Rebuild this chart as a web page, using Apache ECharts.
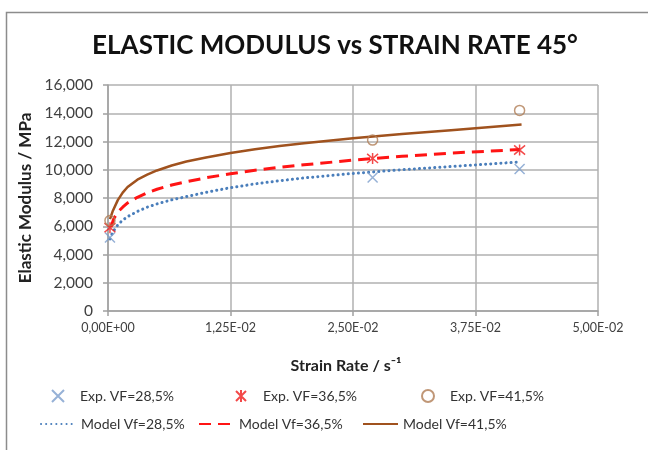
<!DOCTYPE html>
<html>
<head>
<meta charset="utf-8">
<script src="https://cdn.jsdelivr.net/npm/echarts@6/dist/echarts.min.js"></script>
<style>
  html, body { margin: 0; padding: 0; background: #fff; }
  #chart { width: 648px; height: 450px; }
</style>
</head>
<body>
<div id="chart"></div>
<script>
// Strain rate tick labels (comma decimal separator)
const xTickLabels = ['0,00E+00', '1,25E-02', '2,50E-02', '3,75E-02', '5,00E-02'];

// Experimental points: strain rate [1/s] and elastic modulus [MPa]
const expRate = [0.0002, 0.0270, 0.0420];
const expVf28 = [5200, 9450, 10050];
const expVf36 = [5900, 10800, 11400];
const expVf41 = [6400, 12100, 14200];

// Model curves: strain rate samples and modulus values
const modelRate28 = [0.0002, 0.0005, 0.001, 0.0015, 0.002, 0.003, 0.004, 0.005, 0.0065, 0.008, 0.010, 0.0125, 0.015, 0.0175, 0.020, 0.025, 0.030, 0.035, 0.042];
const modelVf28   = [5100, 5600, 6100, 6430, 6680, 7050, 7350, 7580, 7870, 8100, 8400, 8730, 9000, 9220, 9420, 9740, 10000, 10230, 10550];
const modelRate36 = [0.0003, 0.0006, 0.001, 0.0015, 0.002, 0.003, 0.004, 0.005, 0.0065, 0.008, 0.010, 0.0125, 0.015, 0.0175, 0.020, 0.025, 0.030, 0.035, 0.042];
const modelVf36   = [5950, 6550, 7000, 7350, 7650, 8050, 8370, 8620, 8920, 9150, 9430, 9720, 9960, 10170, 10350, 10680, 10950, 11180, 11430];
const modelRate41 = [0.0002, 0.0005, 0.001, 0.0015, 0.002, 0.003, 0.004, 0.005, 0.0065, 0.008, 0.010, 0.0125, 0.015, 0.0175, 0.020, 0.025, 0.030, 0.035, 0.0422];
const modelVf41   = [6500, 7100, 7850, 8380, 8780, 9300, 9650, 9950, 10300, 10580, 10870, 11180, 11450, 11680, 11880, 12230, 12530, 12800, 13200];

const pairs = (xs, ys) => xs.map((x, i) => [x, ys[i]]);

const FONT = 'Lato';
const crossPath = 'path://M0,0L10,10M10,0L0,10';
const starPath = 'path://M0,0L10,10M10,0L0,10M5,-1L5,11';

const xLabelMap = {};
[0, 0.0125, 0.025, 0.0375, 0.05].forEach((v, i) => { xLabelMap[v.toFixed(4)] = xTickLabels[i]; });

const chart = echarts.init(document.getElementById('chart'), null, { renderer: 'canvas' });

function legendAt(name, left, top, isMarker) {
  const l = {
    data: [name],
    left: left,
    top: top,
    itemWidth: isMarker ? 12 : 35,
    itemHeight: isMarker ? 12 : 10,
    itemGap: 2,
    textStyle: { fontFamily: FONT, fontSize: 14, color: '#333', padding: [0, 0, 0, isMarker ? 11 : 0] },
    selectedMode: false
  };
  if (!isMarker) l.itemStyle = { opacity: 0 };
  return l;
}

const option = {
  backgroundColor: '#fff',
  animation: false,
  title: [{
    text: 'ELASTIC MODULUS vs STRAIN RATE 45°',
    left: 330,
    top: 28,
    textAlign: 'center',
    textStyle: { fontFamily: FONT, fontWeight: 'bold', fontSize: 26, color: '#111' }
  }, {
    text: 'Strain Rate / s⁻¹',
    left: 341,
    top: 353,
    textAlign: 'center',
    textStyle: { fontFamily: FONT, fontWeight: 'bold', fontSize: 16, color: '#222' }
  }],
  graphic: [{
    type: 'rect',
    shape: { x: 6.5, y: 12.5, width: 700, height: 500 },
    style: { fill: 'none', stroke: '#8c8c8c', lineWidth: 1.5 },
    silent: true
  }],
  grid: { left: 108, right: 50, top: 85, bottom: 139 },
  xAxis: {
    type: 'value',
    min: 0, max: 0.05, interval: 0.0125,
    axisLine: { show: true, lineStyle: { color: '#a0a0a0', width: 1.5 } },
    axisTick: { show: true, length: 5, lineStyle: { color: '#a0a0a0', width: 1.5 } },
    axisLabel: {
      fontFamily: FONT, fontSize: 12.5, color: '#404040', margin: 10,
      formatter: v => xLabelMap[v.toFixed(4)] || ''
    },
    splitLine: { show: true, lineStyle: { color: '#b0b0b0', width: 1.5 } }
  },
  yAxis: {
    type: 'value',
    min: 0, max: 16000, interval: 2000,
    name: 'Elastic Modulus / MPa',
    nameLocation: 'middle',
    nameGap: 72,
    nameTextStyle: { fontFamily: FONT, fontWeight: 'bold', fontSize: 17, color: '#222' },
    axisLine: { show: true, lineStyle: { color: '#a0a0a0', width: 1.5 } },
    axisTick: { show: true, length: 5, lineStyle: { color: '#a0a0a0', width: 1.5 } },
    axisLabel: {
      fontFamily: FONT, fontSize: 15.5, color: '#404040', margin: 15,
      formatter: v => v === 0 ? '0' : v.toLocaleString('en-US')
    },
    splitLine: { show: true, lineStyle: { color: '#b0b0b0', width: 1.5 } }
  },
  legend: [
    legendAt('Exp. VF=28,5%', 46, 384, true),
    legendAt('Exp. VF=36,5%', 230, 384, true),
    legendAt('Exp. VF=41,5%', 416, 384, true),
    legendAt('Model Vf=28,5%', 35, 412, false),
    legendAt('Model Vf=36,5%', 193, 412, false),
    legendAt('Model Vf=41,5%', 357, 412, false)
  ],
  series: [
    {
      name: 'Model Vf=28,5%', type: 'line', symbol: 'none', smooth: false,
      data: pairs(modelRate28, modelVf28),
      lineStyle: { color: '#4a7ebb', width: 3, type: [0.1, 5], cap: 'round' },
      itemStyle: { color: '#4a7ebb' }, z: 2
    },
    {
      name: 'Model Vf=36,5%', type: 'line', symbol: 'none', smooth: false,
      data: pairs(modelRate36, modelVf36),
      lineStyle: { color: '#ff1414', width: 3, type: [12, 7] },
      itemStyle: { color: '#ff1414' }, z: 3
    },
    {
      name: 'Model Vf=41,5%', type: 'line', symbol: 'none', smooth: false,
      data: pairs(modelRate41, modelVf41),
      lineStyle: { color: '#a0521e', width: 2.5, join: 'round' },
      itemStyle: { color: '#a0521e' }, z: 4
    },
    {
      name: 'Exp. VF=28,5%', type: 'scatter', symbol: crossPath, symbolSize: 10,
      data: pairs(expRate, expVf28),
      itemStyle: { color: 'rgba(0,0,0,0)', borderColor: '#7c9dcc', borderWidth: 1.5 }, z: 5
    },
    {
      name: 'Exp. VF=36,5%', type: 'scatter', symbol: starPath, symbolSize: 11,
      data: pairs(expRate, expVf36),
      itemStyle: { color: 'rgba(0,0,0,0)', borderColor: '#f01c1c', borderWidth: 1.5 }, z: 5
    },
    {
      name: 'Exp. VF=41,5%', type: 'scatter', symbol: 'circle', symbolSize: 10,
      data: pairs(expRate, expVf41),
      itemStyle: { color: 'rgba(255,255,255,0)', borderColor: '#b07d55', borderWidth: 1.5 }, z: 5
    }
  ]
};

chart.setOption(option);
</script>
</body>
</html>
